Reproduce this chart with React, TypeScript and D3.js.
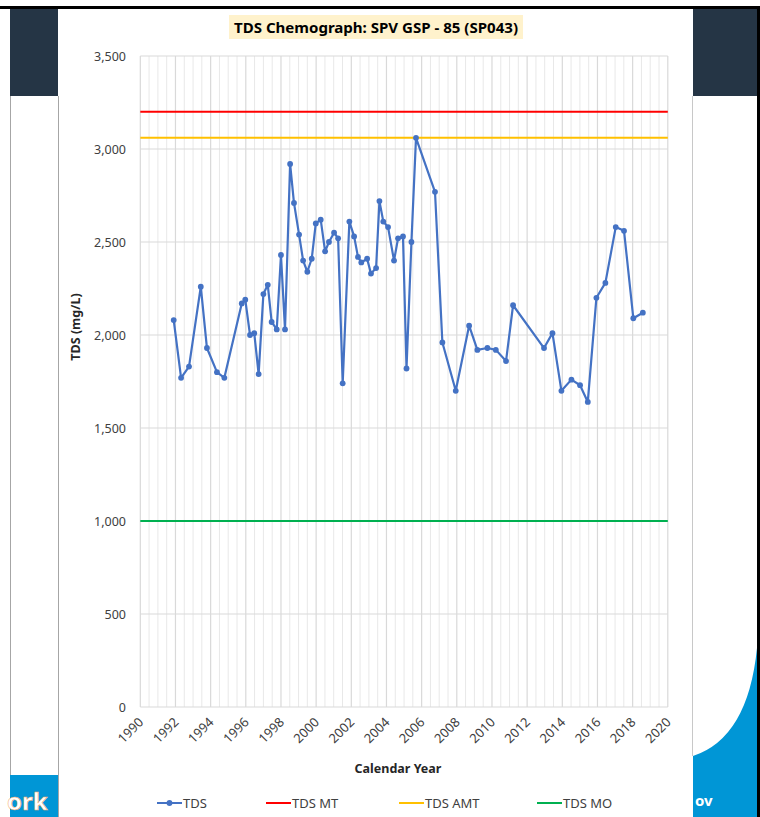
import { useEffect, useRef } from 'react'
import * as d3 from 'd3'

const sampleYears = [
  1991.9, 1992.32, 1992.77, 1993.44, 1993.79, 1994.36, 1994.78, 1995.77, 1995.97, 1996.24,
  1996.48, 1996.73, 1997.0, 1997.25, 1997.47, 1997.76, 1998.0, 1998.23, 1998.52, 1998.74,
  1999.03, 1999.26, 1999.5, 1999.75, 1999.98, 2000.26, 2000.51, 2000.73, 2001.02, 2001.25,
  2001.51, 2001.89, 2002.16, 2002.38, 2002.57, 2002.9, 2003.12, 2003.41, 2003.6, 2003.82,
  2004.09, 2004.43, 2004.66, 2004.94, 2005.14, 2005.42, 2005.68, 2006.76, 2007.18, 2007.94,
  2008.7, 2009.17, 2009.74, 2010.22, 2010.8, 2011.2, 2012.96, 2013.44, 2013.95, 2014.52,
  2015.01, 2015.45, 2015.94, 2016.45, 2017.04, 2017.51, 2018.04, 2018.58,
]
const tdsValues = [
  2080, 1770, 1830, 2260, 1930, 1800, 1770, 2170, 2190, 2000,
  2010, 1790, 2220, 2270, 2070, 2030, 2430, 2030, 2920, 2710,
  2540, 2400, 2340, 2410, 2600, 2620, 2450, 2500, 2550, 2520,
  1740, 2610, 2530, 2420, 2390, 2410, 2330, 2360, 2720, 2610,
  2580, 2400, 2520, 2530, 1820, 2500, 3060, 2770, 1960, 1700,
  2050, 1920, 1930, 1920, 1860, 2160, 1930, 2010, 1700, 1760,
  1730, 1640, 2200, 2280, 2580, 2560, 2090, 2120,
]
const thresholdNames = ['TDS MT', 'TDS AMT', 'TDS MO']
const thresholdValues = [3200, 3060, 1000]
const thresholdColors = ['#ff0000', '#ffc000', '#00b050']
const xTickYears = d3.range(1990, 2021, 2)
const yTickValues = d3.range(0, 3501, 500)

const FONT = "'Noto Sans', 'Open Sans', sans-serif"

export default function App() {
  const ref = useRef<SVGSVGElement | null>(null)

  useEffect(() => {
    if (!ref.current) return
    const svg = d3.select(ref.current)
    svg.selectAll('*').remove()

    // slide decorations behind the chart picture
    svg.append('rect').attr('width', 760).attr('height', 817).attr('fill', '#fff')
    svg.append('rect').attr('x', 10).attr('y', 8).attr('width', 48).attr('height', 88).attr('fill', '#253545')
    svg.append('rect').attr('x', 693).attr('y', 8).attr('width', 64).attr('height', 88).attr('fill', '#253545')
    svg.append('line').attr('x1', 10.5).attr('x2', 10.5).attr('y1', 96).attr('y2', 776).attr('stroke', '#a6a6a6')
    svg.append('line').attr('x1', 58.5).attr('x2', 58.5).attr('y1', 96).attr('y2', 817).attr('stroke', '#a6a6a6')
    svg.append('line').attr('x1', 692.5).attr('x2', 692.5).attr('y1', 96).attr('y2', 756).attr('stroke', '#c8c8c8')
    svg.append('rect').attr('x', 10).attr('y', 775).attr('width', 48).attr('height', 42).attr('fill', '#0096d6')
    svg
      .append('text')
      .attr('x', 7)
      .attr('y', 810)
      .attr('font-family', FONT)
      .attr('font-weight', 'bold')
      .attr('font-size', 24)
      .attr('fill', '#fff')
      .attr('stroke', '#f4a460')
      .attr('stroke-width', 0.5)
      .text('ork')
    svg
      .append('path')
      .attr('d', 'M757,648 Q748,738 693,756 L693,817 L757,817 Z')
      .attr('fill', '#0096d6')
    svg
      .append('text')
      .attr('x', 695)
      .attr('y', 806)
      .attr('font-family', FONT)
      .attr('font-weight', 'bold')
      .attr('font-size', 15)
      .attr('fill', '#fff')
      .text('ov')
    svg.append('rect').attr('x', 0).attr('y', 6).attr('width', 760).attr('height', 3).attr('fill', '#000')
    svg.append('rect').attr('x', 757).attr('y', 6).attr('width', 3).attr('height', 811).attr('fill', '#000')

    const x = d3.scaleLinear().domain([1990, 2020]).range([140.3, 667.8])
    const y = d3.scaleLinear().domain([0, 3500]).range([707, 56])

    // title with highlight
    svg.append('rect').attr('x', 229).attr('y', 15).attr('width', 294).attr('height', 24).attr('fill', '#fff2cc')
    svg
      .append('text')
      .attr('x', 376)
      .attr('y', 33)
      .attr('text-anchor', 'middle')
      .attr('font-family', FONT)
      .attr('font-weight', 'bold')
      .attr('font-size', 15)
      .attr('textLength', 284)
      .attr('lengthAdjust', 'spacingAndGlyphs')
      .attr('fill', '#000')
      .text('TDS Chemograph: SPV GSP - 85 (SP043)')

    // gridlines
    const grid = svg.append('g')
    grid
      .selectAll('line.minor')
      .data(d3.range(1990, 2020.01, 0.5).filter((v) => v % 2 !== 0))
      .join('line')
      .attr('x1', (d) => x(d))
      .attr('x2', (d) => x(d))
      .attr('y1', y(3500))
      .attr('y2', y(0))
      .attr('stroke', '#e8e8e8')
      .attr('stroke-width', 1)
    grid
      .selectAll('line.majorx')
      .data(xTickYears)
      .join('line')
      .attr('x1', (d) => x(d))
      .attr('x2', (d) => x(d))
      .attr('y1', y(3500))
      .attr('y2', y(0))
      .attr('stroke', '#d9d9d9')
      .attr('stroke-width', 1.2)
    grid
      .append('g')
      .selectAll('line')
      .data(yTickValues)
      .join('line')
      .attr('x1', x(1990))
      .attr('x2', x(2020))
      .attr('y1', (d) => y(d))
      .attr('y2', (d) => y(d))
      .attr('stroke', '#d9d9d9')
      .attr('stroke-width', 1.2)

    // y axis labels
    svg
      .append('g')
      .selectAll('text')
      .data(yTickValues)
      .join('text')
      .attr('x', 126)
      .attr('y', (d) => y(d) + 4.5)
      .attr('text-anchor', 'end')
      .attr('font-family', FONT)
      .attr('font-size', 12.5)
      .attr('fill', '#404040')
      .text((d) => d3.format(',')(d))

    // x axis labels, rotated
    svg
      .append('g')
      .selectAll('text')
      .data(xTickYears)
      .join('text')
      .attr('transform', (d) => `translate(${x(d) + 4},${y(0) + 16}) rotate(-45)`)
      .attr('text-anchor', 'end')
      .attr('font-family', FONT)
      .attr('font-size', 13)
      .attr('fill', '#404040')
      .text((d) => String(d))

    // axis titles
    svg
      .append('text')
      .attr('x', 398)
      .attr('y', 773)
      .attr('text-anchor', 'middle')
      .attr('font-family', FONT)
      .attr('font-weight', 'bold')
      .attr('font-size', 12.5)
      .attr('fill', '#262626')
      .text('Calendar Year')
    svg
      .append('text')
      .attr('transform', 'translate(80,327) rotate(-90)')
      .attr('text-anchor', 'middle')
      .attr('font-family', FONT)
      .attr('font-weight', 'bold')
      .attr('font-size', 12.5)
      .attr('fill', '#262626')
      .text('TDS (mg/L)')

    // threshold lines
    svg
      .append('g')
      .selectAll('line')
      .data(thresholdValues)
      .join('line')
      .attr('x1', x(1990))
      .attr('x2', x(2020))
      .attr('y1', (d) => y(d))
      .attr('y2', (d) => y(d))
      .attr('stroke', (_, i) => thresholdColors[i])
      .attr('stroke-width', 2)

    // TDS series
    const data = sampleYears.map((yr, i) => ({ yr, v: tdsValues[i] }))
    const line = d3
      .line<{ yr: number; v: number }>()
      .x((d) => x(d.yr))
      .y((d) => y(d.v))
    svg
      .append('path')
      .datum(data)
      .attr('fill', 'none')
      .attr('stroke', '#4472c4')
      .attr('stroke-width', 2.2)
      .attr('stroke-linejoin', 'round')
      .attr('d', line)
    svg
      .append('g')
      .selectAll('circle')
      .data(data)
      .join('circle')
      .attr('cx', (d) => x(d.yr))
      .attr('cy', (d) => y(d.v))
      .attr('r', 2.9)
      .attr('fill', '#4472c4')

    // legend
    const legendItems = [
      { name: 'TDS', color: '#4472c4', x0: 157, marker: true },
      ...thresholdNames.map((name, i) => ({ name, color: thresholdColors[i], x0: [266, 399, 537][i], marker: false })),
    ]
    const legend = svg.append('g')
    legendItems.forEach((item) => {
      legend
        .append('line')
        .attr('x1', item.x0)
        .attr('x2', item.x0 + 25)
        .attr('y1', 803)
        .attr('y2', 803)
        .attr('stroke', item.color)
        .attr('stroke-width', 2)
      if (item.marker) {
        legend.append('circle').attr('cx', item.x0 + 12.5).attr('cy', 803).attr('r', 2.9).attr('fill', item.color)
      }
      legend
        .append('text')
        .attr('x', item.x0 + 26)
        .attr('y', 808)
        .attr('font-family', FONT)
        .attr('font-size', 13)
        .attr('fill', '#404040')
        .text(item.name)
    })
  }, [])

  return (
    <svg
      ref={ref}
      width={760}
      height={817}
      style={{ position: 'absolute', left: 0, top: 0, display: 'block' }}
    />
  )
}
